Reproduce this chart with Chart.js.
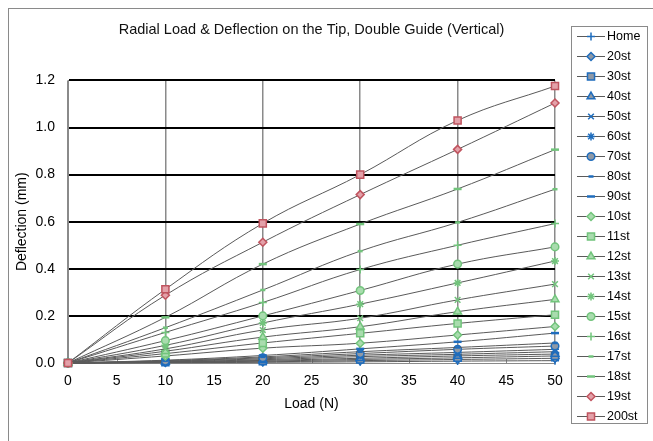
<!DOCTYPE html>
<html>
<head>
<meta charset="utf-8">
<script src="https://cdn.jsdelivr.net/npm/chart.js@4.4.1/dist/chart.umd.min.js"></script>
<style>
  html, body { margin: 0; padding: 0; background: #fff; }
  #wrap { position: relative; width: 653px; height: 441px; }
</style>
</head>
<body>
<div id="wrap"><canvas id="chart" width="653" height="441"></canvas></div>
<script>
// x values (Load, N)
const loads = [0, 10, 20, 30, 40, 50];
const xTicks = [0, 5, 10, 15, 20, 25, 30, 35, 40, 45, 50];
const yTicks = [0, 0.2, 0.4, 0.6, 0.8, 1.0, 1.2];

const seriesNames = ["Home", "20st", "30st", "40st", "50st", "60st", "70st", "80st", "90st",
  "10st", "11st", "12st", "13st", "14st", "15st", "16st", "17st", "18st", "19st", "200st"];

// deflection (mm)
const home  = [0, 0.001, 0.003, 0.005, 0.008, 0.010];
const st20  = [0, 0.002, 0.005, 0.010, 0.015, 0.020];
const st30  = [0, 0.003, 0.008, 0.015, 0.022, 0.030];
const st40  = [0, 0.004, 0.011, 0.020, 0.030, 0.038];
const st50  = [0, 0.005, 0.014, 0.027, 0.037, 0.048];
const st60  = [0, 0.007, 0.018, 0.033, 0.045, 0.058];
const st70  = [0, 0.008, 0.022, 0.040, 0.058, 0.072];
const st80  = [0, 0.010, 0.026, 0.048, 0.066, 0.085];
const st90  = [0, 0.012, 0.032, 0.060, 0.090, 0.127];
const st10  = [0, 0.030, 0.063, 0.084, 0.119, 0.155];
const st11  = [0, 0.040, 0.085, 0.126, 0.168, 0.205];
const st12  = [0, 0.050, 0.110, 0.154, 0.218, 0.270];
const st13  = [0, 0.060, 0.140, 0.190, 0.268, 0.335];
const st14  = [0, 0.075, 0.170, 0.250, 0.340, 0.433];
const st15  = [0, 0.095, 0.200, 0.308, 0.420, 0.493];
const st16  = [0, 0.130, 0.257, 0.397, 0.500, 0.592];
const st17  = [0, 0.150, 0.310, 0.475, 0.597, 0.738];
const st18  = [0, 0.194, 0.420, 0.590, 0.739, 0.906];
const st19  = [0, 0.288, 0.513, 0.715, 0.907, 1.104];
const st200 = [0, 0.313, 0.593, 0.800, 1.030, 1.176];

const seriesValues = [home, st20, st30, st40, st50, st60, st70, st80, st90,
  st10, st11, st12, st13, st14, st15, st16, st17, st18, st19, st200];

// marker looks
const BLUE = {stroke: "#1f6dbd", fill: "#8f99a6"};
const GREEN = {stroke: "#72c47c", fill: "#a9dcae"};
const RED = {stroke: "#c0545f", fill: "#e3a1a9"};
const markers = [
  ["cross", 4, BLUE], ["rectRot", 4, BLUE], ["rect", 5, BLUE], ["triangle", 4.5, BLUE],
  ["crossRot", 4, BLUE], ["star", 4, BLUE], ["circle", 3.8, BLUE], ["line", 2.5, BLUE], ["line", 4, BLUE],
  ["rectRot", 4, GREEN], ["rect", 5, GREEN], ["triangle", 4.5, GREEN], ["crossRot", 4, GREEN],
  ["star", 4, GREEN], ["circle", 3.8, GREEN], ["cross", 4, GREEN], ["line", 2.5, GREEN], ["line", 4, GREEN],
  ["rectRot", 4, RED], ["rect", 5, RED]
];

function markerWidth(style){
  return (style === "line") ? 2.5 : 1.5;
}

const datasets = seriesNames.map((name, i) => {
  const [style, r, col] = markers[i];
  return {
    label: name,
    data: loads.map((x, j) => ({x: x, y: seriesValues[i][j]})),
    borderColor: "#5a5a5a",
    borderWidth: 1,
    tension: 0.4,
    fill: false,
    clip: false,
    pointStyle: style,
    pointRadius: r,
    pointHoverRadius: r,
    pointBackgroundColor: col.fill,
    pointBorderColor: col.stroke,
    pointBorderWidth: markerWidth(style),
    order: seriesNames.length - i
  };
});

// outer frame + inside minor ticks
const framePlugin = {
  id: "frame",
  beforeDraw(chart){
    const ctx = chart.ctx;
    ctx.save();
    ctx.fillStyle = "#fff";
    ctx.fillRect(0, 0, chart.width, chart.height);
    ctx.strokeStyle = "#8a8a8a";
    ctx.lineWidth = 1;
    ctx.strokeRect(8.5, 8.5, 700, 500);
    ctx.restore();
  },
  beforeDatasetsDraw(chart){
    const ctx = chart.ctx, xs = chart.scales.x, area = chart.chartArea;
    ctx.save();
    ctx.strokeStyle = "#8a8a8a";
    ctx.lineWidth = 1;
    xTicks.forEach(v => {
      const px = Math.round(xs.getPixelForValue(v)) + 0.5;
      ctx.beginPath();
      ctx.moveTo(px, area.bottom);
      ctx.lineTo(px, area.bottom - 4);
      ctx.stroke();
    });
    ctx.restore();
  }
};

// legend box like the spreadsheet one
const legendPlugin = {
  id: "sideLegend",
  afterDraw(chart){
    const ctx = chart.ctx;
    const left = 571, top = 26, w = 76, h = 397;
    ctx.save();
    ctx.strokeStyle = "#8a8a8a";
    ctx.lineWidth = 1;
    ctx.strokeRect(left + 0.5, top + 0.5, w, h);
    ctx.font = "12.5px 'Liberation Sans', Arial, sans-serif";
    ctx.textBaseline = "middle";
    chart.data.datasets.forEach((ds, i) => {
      const y = 36 + i * 20;
      ctx.strokeStyle = "#5a5a5a";
      ctx.lineWidth = 1;
      ctx.beginPath();
      ctx.moveTo(577, y + 0.5);
      ctx.lineTo(605, y + 0.5);
      ctx.stroke();
      ctx.fillStyle = ds.pointBackgroundColor;
      ctx.strokeStyle = ds.pointBorderColor;
      ctx.lineWidth = ds.pointBorderWidth;
      Chart.helpers.drawPoint(ctx, {
        pointStyle: ds.pointStyle, radius: ds.pointRadius, rotation: 0,
        borderWidth: ds.pointBorderWidth
      }, 591, y + 0.5);
      ctx.fillStyle = "#000";
      ctx.fillText(ds.label, 607, y + 1);
    });
    ctx.restore();
  }
};

new Chart(document.getElementById("chart"), {
  type: "line",
  data: {datasets: datasets},
  options: {
    responsive: false,
    animation: false,
    layout: {padding: {left: 0, right: 98, top: 0, bottom: 0}},
    plugins: {
      legend: {display: false},
      tooltip: {enabled: false},
      title: {
        display: true,
        fullSize: false,
        text: "Radial Load & Deflection on the Tip, Double Guide (Vertical)",
        color: "#111",
        font: {family: "'Liberation Sans', Arial, sans-serif", size: 14.5, weight: "normal"},
        padding: {top: 21, bottom: 42}
      }
    },
    scales: {
      x: {
        type: "linear",
        min: 0, max: 50,
        afterBuildTicks(scale){ scale.ticks = xTicks.map(v => ({value: v})); },
        afterFit(scale){ scale.height = 78; },
        ticks: {
          color: "#000",
          padding: 10,
          font: {family: "'Liberation Sans', Arial, sans-serif", size: 14}
        },
        grid: {
          drawTicks: false,
          color: c => (c.tick && c.tick.value % 10 === 0) ? "#8a8a8a" : "rgba(0,0,0,0)",
          lineWidth: 1.5
        },
        border: {display: true, color: "#8a8a8a", width: 1},
        title: {
          display: true,
          text: "Load (N)",
          color: "#000",
          font: {family: "'Liberation Sans', Arial, sans-serif", size: 14},
          padding: {top: 0, bottom: 28}
        }
      },
      y: {
        type: "linear",
        min: 0, max: 1.2,
        afterBuildTicks(scale){ scale.ticks = yTicks.map(v => ({value: v})); },
        afterFit(scale){ scale.width = 68; },
        ticks: {
          color: "#000",
          padding: 13,
          font: {family: "'Liberation Sans', Arial, sans-serif", size: 14},
          callback: v => Number(v).toFixed(1)
        },
        grid: {
          drawTicks: false,
          color: c => (c.tick && c.tick.value === 0) ? "#8a8a8a" : "#000",
          lineWidth: c => (c.tick && c.tick.value === 0) ? 1 : 2
        },
        border: {display: true, color: "#8a8a8a", width: 1},
        title: {
          display: true,
          text: "Deflection (mm)",
          color: "#000",
          font: {family: "'Liberation Sans', Arial, sans-serif", size: 14},
          padding: {top: 14, bottom: 0}
        }
      }
    }
  },
  plugins: [framePlugin, legendPlugin]
});
</script>
</body>
</html>
